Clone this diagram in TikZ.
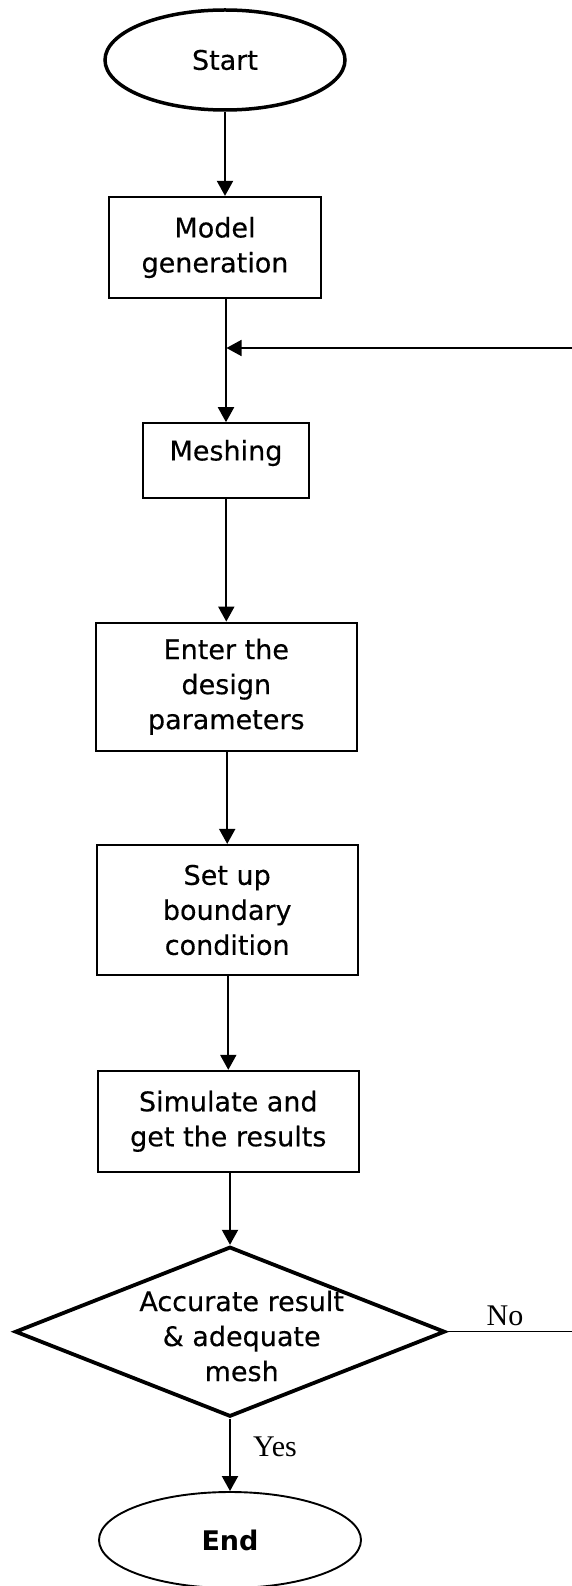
\documentclass[tikz,border=0pt]{standalone}
\usepackage{fontspec}
\setmainfont{DejaVu Sans}[UprightFeatures={FakeBold=0.35}]
\newfontfamily\tnr{Liberation Serif}
\usetikzlibrary{shapes.geometric,arrows.meta}
\begin{document}
\begin{tikzpicture}[x=1pt,y=-1pt,
  txt/.style={font=\fontsize{27}{35}\selectfont, align=center, inner sep=0pt},
  box/.style={draw, rectangle, line width=2.2pt, inner sep=0pt, txt},
  startell/.style={draw, ellipse, line width=3.5pt, inner sep=0pt, txt},
  endell/.style={draw, ellipse, line width=1.9pt, inner sep=0pt, font=\fontsize{27}{35}\selectfont\bfseries},
  decision/.style={draw, diamond, line width=3.8pt, inner sep=0pt, minimum width=430pt, minimum height=170pt},
  conn/.style={line width=2pt, -{Triangle[length=15pt,width=16pt]}},
  fbline/.style={line width=1.6pt, -{Triangle[length=15pt,width=16pt]}},
  plainline/.style={line width=1.5pt},
  lab/.style={font=\tnr\fontsize{30}{34}\selectfont, inner sep=0pt}]
\useasboundingbox (0,0) rectangle (571,1586);
\fill[white] (0,0) rectangle (571,1586);

\node[startell, minimum width=240pt, minimum height=100pt] (start) at (225,60) {Start};
\node[box, minimum width=212pt, minimum height=101pt] (model) at (215,247.5) {Model\\generation};
\node[box, minimum width=166.6pt, minimum height=75pt] (mesh) at (226,460.8) {};
\node[txt] (meshtext) at (226,453) {Meshing};
\node[box, minimum width=260.7pt, minimum height=128pt] (enter) at (226.3,686.7) {Enter the\\design\\parameters};
\node[box, minimum width=261pt, minimum height=130pt] (setup) at (227.2,910) {Set up\\boundary\\condition};
\node[box, minimum width=261.3pt, minimum height=100.7pt] (sim) at (228.3,1121.3) {Simulate and\\get the results};
\node[decision] (dec) at (230,1331.7) {};
\node[txt] (dectext) at (241.7,1336) {Accurate result\\\&~adequate\\mesh};
\node[endell, minimum width=262pt, minimum height=96pt] (end) at (230,1540) {End};

\node[lab] (yes) at (275,1447) {Yes};
\node[lab] (no) at (505,1316) {No};

\coordinate (fbR) at (572,348);
\coordinate (fbJ) at (226.5,348);
\coordinate (noR) at (572,1331.7);

\draw[conn] (start.south) -- (start.south |- model.north);
\draw[conn] (model.south -| mesh.north) -- (mesh.north);
\draw[fbline] (fbR) -- (fbJ);
\draw[conn] (mesh.south -| enter.north) -- (enter.north);
\draw[conn] (enter.south -| setup.north) -- (setup.north);
\draw[conn] (setup.south -| sim.north) -- (sim.north);
\draw[conn] (sim.south -| dec.north) -- (dec.north);
\draw[conn] (dec.south) -- (end.north);
\draw[plainline] (dec.east) -- (noR);
\end{tikzpicture}
\end{document}
